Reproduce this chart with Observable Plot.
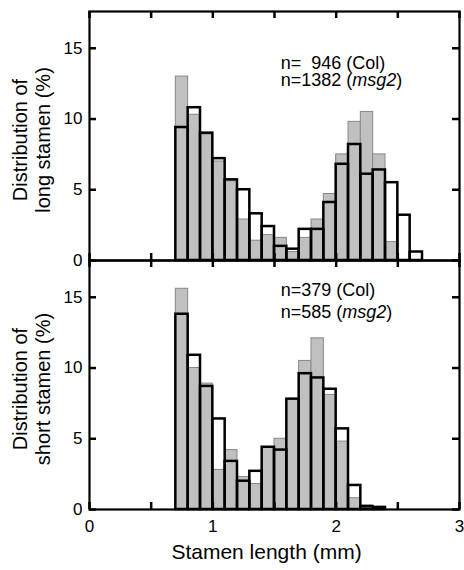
<!DOCTYPE html>
<html><head><meta charset="utf-8">
<script src="https://cdn.jsdelivr.net/npm/d3@7"></script>
<script src="https://cdn.jsdelivr.net/npm/@observablehq/plot@0.6"></script>
<style>
body{margin:0;background:#fff;}
#chart{width:464px;height:570px;}
</style>
</head><body><div id="chart"></div>
<script>
// Bin left edges (mm), width 0.1 mm
const binStarts = [0.7,0.8,0.9,1.0,1.1,1.2,1.3,1.4,1.5,1.6,1.7,1.8,1.9,2.0,2.1,2.2,2.3,2.4,2.5,2.6];
const binWidth = 0.1;

// Distribution (%) per bin
const longCol   = [13.0,10.3,8.9,7.0,5.6,2.9,1.4,1.8,1.6,0.6,1.6,2.9,4.7,7.5,9.8,10.5,7.5,1.3,0,0];
const longMsg2  = [9.4,10.8,9.0,7.2,5.7,5.0,3.3,2.4,1.0,0.8,2.2,2.2,4.1,6.8,8.2,6.1,6.4,5.5,3.2,0.6];
const shortCol  = [15.6,10.0,8.9,2.8,4.2,2.3,1.8,4.4,5.0,7.8,10.5,12.1,8.1,4.8,0.8,0.3,0,0,0,0];
const shortMsg2 = [13.8,10.9,8.7,6.4,3.4,2.0,2.7,4.4,4.2,7.8,9.6,9.3,8.5,5.7,1.7,0.2,0.15,0,0,0];

const panels = ["long","short"];
const panelTitles = ["Distribution of\nlong stamen (%)","Distribution of\nshort stamen (%)"];
const annoPanels = ["long","long","short","short"];
const annoTexts = ["n=\u2007946 (Col)","n=1382 (msg2)","n=379 (Col)","n=585 (msg2)"];
const yTicks = [0,5,10,15];
const xMinorTicks = [0,0.5,1,1.5,2,2.5,3];
const xLabelTicks = [0,1,2,3];
const xTitle = "Stamen length (mm)";

// annotation placement (data coordinates)
const annoPos = [{x:1.55,y:13.55},{x:1.55,y:12.35},{x:1.55,y:15.1},{x:1.55,y:13.55}];

// layout
const W = 464, H = 570, mL = 89, mR = 5, mT = 11, mB = 61;
const frameW = W - mL - mR;
const facetH = (H - mT - mB) / 2;
const tickLen = 7;

function rowsFor(panel, vals){
  return vals.map((v,i)=>({panel, x1: binStarts[i], x2: binStarts[i]+binWidth, value: v})).filter(d=>d.value>0);
}
const colRows = [...rowsFor("long", longCol), ...rowsFor("short", shortCol)];
const msgRows = [...rowsFor("long", longMsg2), ...rowsFor("short", shortMsg2)];
const titleRows = panels.map((p,i)=>({panel:p, title: panelTitles[i]}));
const annoRows = annoTexts.map((t,i)=>({panel: annoPanels[i], text: t, ...annoPos[i]}));

const tickStyle = {stroke: "black", strokeWidth: 2.5};

const chart = Plot.plot({
  width: W, height: H,
  marginLeft: mL, marginRight: mR, marginTop: mT, marginBottom: mB,
  style: {fontFamily: "Liberation Sans, Arial, sans-serif", color: "black", background: "white"},
  x: {domain: [0,3]},
  y: {domain: [0,17.6]},
  fy: {domain: panels, padding: 0, axis: null},
  marks: [
    Plot.rect(colRows, {x1:"x1", x2:"x2", y1:0, y2:"value", fy:"panel", fill:"#c0c0c0", stroke:"#888", strokeWidth:1}),
    Plot.rect(msgRows, {x1:"x1", x2:"x2", y1:0, y2:"value", fy:"panel", fill:"none", stroke:"black", strokeWidth:2.5}),
    Plot.frame({stroke:"black", strokeWidth:2.2}),
    // inward ticks on all four sides of each panel
    Plot.ruleY(yTicks, {y: d=>d, insetRight: frameW - tickLen, ...tickStyle}),
    Plot.ruleY(yTicks, {y: d=>d, insetLeft: frameW - tickLen, ...tickStyle}),
    Plot.ruleX(xMinorTicks, {x: d=>d, insetTop: facetH - tickLen, ...tickStyle}),
    Plot.ruleX(xMinorTicks, {x: d=>d, insetBottom: facetH - tickLen, ...tickStyle}),
    Plot.axisY({ticks:yTicks, tickSize:0, tickPadding:7, fontSize:17, label:null, tickFormat: d=>String(d)}),
    Plot.axisX({ticks:xLabelTicks, tickSize:0, tickPadding:10, fontSize:17, label:null, tickFormat: d=>String(d)}),
    Plot.text(titleRows, {fy:"panel", text:"title", frameAnchor:"left", textAnchor:"middle", rotate:-90, dx:-58, dy:4, fontSize:20, lineHeight:1.15}),
    Plot.text([{panel:"short", t:xTitle}], {fy:"panel", text:"t", frameAnchor:"bottom", textAnchor:"middle", lineAnchor:"bottom", dy:49, dx:-8, fontSize:21}),
    Plot.text(annoRows, {fy:"panel", x:"x", y:"y", text:"text", textAnchor:"start", lineAnchor:"bottom", fontSize:18})
  ]
});

d3.select(chart).selectAll("text").each(function(){
  const t = this.textContent;
  if (t.includes("msg2") && this.childElementCount === 0) {
    const [a,b] = t.split("msg2");
    this.textContent = "";
    const s = d3.select(this);
    s.append("tspan").text(a);
    s.append("tspan").attr("font-style","italic").text("msg2");
    s.append("tspan").text(b);
  }
});
document.getElementById("chart").appendChild(chart);
</script>
</body></html>
